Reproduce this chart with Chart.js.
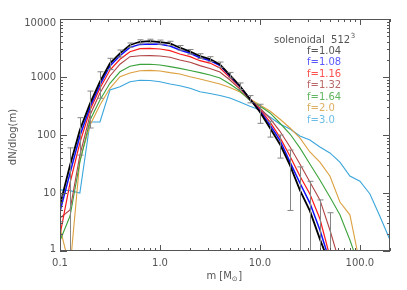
<!DOCTYPE html>
<html>
<head>
<meta charset="utf-8">
<script src="https://cdn.jsdelivr.net/npm/chart.js@4.4.1/dist/chart.umd.min.js"></script>
<style>
  html, body { margin: 0; padding: 0; background: #fff; }
  canvas { display: block; }
</style>
</head>
<body>
<canvas id="imf" width="407" height="290"></canvas>
<script>
// mass bins (M_sun), 0.1 dex apart
const masses = [0.1, 0.126, 0.158, 0.2, 0.251, 0.316, 0.398, 0.501, 0.631, 0.794,
  1.0, 1.26, 1.58, 2.0, 2.51, 3.16, 3.98, 5.01, 6.31, 7.94,
  10, 12.6, 15.8, 20, 25.1, 31.6, 39.8, 50.1, 63.1, 79.4,
  100, 126, 158, 200];

// dN/dlog(m) for each run
const f104 = [6.2, 30, 122, 352, 830, 1720, 2560, 3560, 4050, 4150,
  4000, 3810, 3200, 2730, 2300, 2040, 1640, 1080, 700, 418,
  249, 132, 70, 30, 11.2, 4.9, 1.6, 0.57, null, null, null, null, null, null];
const f108 = [4.8, 22, 96, 307, 728, 1550, 2330, 3250, 3650, 3720,
  3660, 3420, 2920, 2560, 2150, 1925, 1580, 1040, 686, 418,
  259, 149, 82, 34, 14.9, 6.7, 2.3, 0.65, null, null, null, null, null, null];
const f116 = [1.9, 15, 73, 270, 639, 1320, 2020, 2730, 3080, 3120,
  3040, 2840, 2490, 2240, 1910, 1740, 1430, 980, 672, 418,
  275, 168, 92, 43, 19.6, 9.6, 3.6, 0.8, null, null, null, null, null, null];
const f132 = [3.7, 5.1, 45, 221, 530, 1040, 1660, 2240, 2330, 2340,
  2300, 2190, 1960, 1790, 1570, 1400, 1220, 888, 621, 401,
  292, 194, 117, 62, 31.6, 15.5, 7.6, 2.3, 0.6, null, null, null, null, null];
const f164 = [1.5, 4, 34, 181, 401, 778, 1230, 1530, 1650, 1660,
  1610, 1510, 1410, 1290, 1190, 1080, 961, 757, 574, 393,
  316, 240, 161, 104, 60, 31.6, 16.7, 8.5, 4.2, 1.55, 0.5, null, null, null];
const f20 = [2.5, 0.5, 37, 149, 329, 639, 1010, 1170, 1280, 1300,
  1270, 1190, 1130, 1010, 924, 836, 757, 659, 551, 418,
  329, 259, 189, 132, 89, 51, 34, 19.6, 7, 4.2, 0.6, null, null, null];
const f30 = [11.3, 11, 10, 168, 168, 597, 680, 830, 880, 870,
  830, 757, 708, 639, 558, 520, 480, 435, 371, 314,
  270, 204, 155, 127, 96, 82, 62, 49, 34, 19.6, 16, 9.6, 4.0, 1.55];

// error on the f=1.04 run
const f104err = [3, 30, 77, 220, 400, 380, 360, 300, 330, 330,
  330, 320, 290, 250, 220, 200, 170, 120, 90, 60,
  90, 40, 30, 25, 17, 11, 6, 4, null, null, null, null, null, null];

const runLabels = ['f=1.04', 'f=1.08', 'f=1.16', 'f=1.32', 'f=1.64', 'f=2.0', 'f=3.0'];
const runColors = ['#000000', '#1010ff', '#ff1a1a', '#b04444', '#3ca33c', '#dca040', '#3aa6dc'];
const textColors = ['#555555', '#5a5aff', '#ff5050', '#b86868', '#62b562', '#dcae62', '#6cbde6'];
const runWidths = [1.8, 1.5, 1.2, 1.1, 1.1, 1.1, 1.1];
const runs = [f104, f108, f116, f132, f164, f20, f30];

const xTickValues = [0.1, 1, 10, 100];
const xTickLabels = ['0.1', '1.0', '10.0', '100.0'];
const yTickValues = [1, 10, 100, 1000, 10000];
const yTickLabels = ['1', '10', '100', '1000', '10000'];

const FONT = '10px "DejaVu Sans"';
const SMALL = '7px "DejaVu Sans"';
const AXIS = '#555555';

// grey error bars on the first run
const errorBars = {
  id: 'errorBars',
  afterDatasetsDraw(chart) {
    const ctx = chart.ctx, xs = chart.scales.x, ys = chart.scales.y, a = chart.chartArea;
    ctx.save();
    ctx.beginPath();
    ctx.rect(a.left, a.top, a.right - a.left, a.bottom - a.top);
    ctx.clip();
    ctx.strokeStyle = '#858585';
    ctx.lineWidth = 1;
    for (let i = 0; i < masses.length; i++) {
      if (f104[i] == null || f104err[i] == null) continue;
      const px = Math.round(xs.getPixelForValue(masses[i])) + 0.5;
      const hi = ys.getPixelForValue(f104[i] + f104err[i]);
      const lo = f104[i] - f104err[i] > 0 ? ys.getPixelForValue(f104[i] - f104err[i]) : a.bottom + 5;
      ctx.beginPath();
      ctx.moveTo(px, hi); ctx.lineTo(px, lo);
      ctx.moveTo(px - 3, hi); ctx.lineTo(px + 3, hi);
      ctx.moveTo(px - 3, lo); ctx.lineTo(px + 3, lo);
      ctx.stroke();
    }
    ctx.restore();
  }
};

// IDL style box, inward ticks, labels and the text block
const idlFrame = {
  id: 'idlFrame',
  afterDraw(chart) {
    const ctx = chart.ctx, xs = chart.scales.x, ys = chart.scales.y, a = chart.chartArea;
    ctx.save();
    ctx.strokeStyle = AXIS;
    ctx.lineWidth = 1;
    ctx.strokeRect(a.left + 0.5, a.top + 0.5, a.right - a.left - 1, a.bottom - a.top - 1);

    ctx.beginPath();
    for (let d = -1; d <= 2; d++) {
      for (let i = 1; i <= 9; i++) {
        const v = i * Math.pow(10, d);
        if (v < 0.0999 || v > 200.01) continue;
        const px = Math.round(xs.getPixelForValue(v)) + 0.5;
        const len = i === 1 ? 6 : 3;
        ctx.moveTo(px, a.bottom); ctx.lineTo(px, a.bottom - len);
        ctx.moveTo(px, a.top); ctx.lineTo(px, a.top + len);
      }
    }
    for (let d = 0; d <= 4; d++) {
      for (let i = 1; i <= 9; i++) {
        const v = i * Math.pow(10, d);
        if (v > 10000.1) continue;
        const py = Math.round(ys.getPixelForValue(v)) + 0.5;
        const len = i === 1 ? 7 : 3;
        ctx.moveTo(a.left, py); ctx.lineTo(a.left + len, py);
        ctx.moveTo(a.right, py); ctx.lineTo(a.right - len, py);
      }
    }
    ctx.stroke();

    ctx.font = FONT;
    ctx.fillStyle = AXIS;
    ctx.textAlign = 'center';
    ctx.textBaseline = 'middle';
    xTickValues.forEach((v, i) => {
      ctx.fillText(xTickLabels[i], xs.getPixelForValue(v), a.bottom + 12);
    });
    ctx.textAlign = 'right';
    yTickValues.forEach((v, i) => {
      let py = ys.getPixelForValue(v);
      py = Math.min(Math.max(py, a.top + 4), a.bottom - 2);
      ctx.fillText(yTickLabels[i], a.left - 4, py);
    });

    // axis titles
    ctx.save();
    ctx.translate(13, 137);
    ctx.rotate(-Math.PI / 2);
    ctx.textAlign = 'center';
    ctx.fillText('dN/dlog(m)', 0, 0);
    ctx.restore();

    ctx.textAlign = 'left';
    const part1 = 'm [M', sub = '\u2299', part2 = ']';
    const w1 = ctx.measureText(part1).width;
    ctx.font = SMALL;
    const ws = ctx.measureText(sub).width;
    ctx.font = FONT;
    const w2 = ctx.measureText(part2).width;
    const tx = 224 - (w1 + ws + w2) / 2;
    ctx.fillText(part1, tx, 276);
    ctx.font = SMALL;
    ctx.fillText(sub, tx + w1, 279);
    ctx.font = FONT;
    ctx.fillText(part2, tx + w1 + ws + 0.5, 276);

    // text block
    ctx.fillText('solenoidal  512', 274, 40);
    const ws512 = ctx.measureText('solenoidal  512').width;
    ctx.font = SMALL;
    ctx.fillText('3', 274 + ws512 + 0.5, 36);
    ctx.font = FONT;
    runLabels.forEach((lab, i) => {
      ctx.fillStyle = textColors[i];
      ctx.fillText(lab, 307, 51 + i * 11.5);
    });
    ctx.restore();
  }
};

const ctx = document.getElementById('imf').getContext('2d');
const chart = new Chart(ctx, {
  type: 'line',
  data: {
    labels: masses,
    datasets: runs.map((vals, i) => ({
      label: runLabels[i],
      data: masses.map((m, j) => ({ x: m, y: vals[j] })),
      borderColor: runColors[i],
      borderWidth: runWidths[i],
      pointRadius: 0,
      tension: 0,
      fill: false
    }))
  },
  options: {
    responsive: false,
    devicePixelRatio: 1,
    animation: false,
    events: [],
    layout: { padding: { left: 0, right: 17, top: 19, bottom: 0 } },
    plugins: { legend: { display: false }, tooltip: { enabled: false }, title: { display: false } },
    scales: {
      x: {
        type: 'logarithmic', min: 0.1, max: 200,
        grid: { display: false }, border: { display: false },
        ticks: { display: false },
        afterFit: s => { s.height = 39; }
      },
      y: {
        type: 'logarithmic', min: 1, max: 10000,
        grid: { display: false }, border: { display: false },
        ticks: { display: false },
        afterFit: s => { s.width = 60; }
      }
    }
  },
  plugins: [errorBars, idlFrame]
});
</script>
</body>
</html>
